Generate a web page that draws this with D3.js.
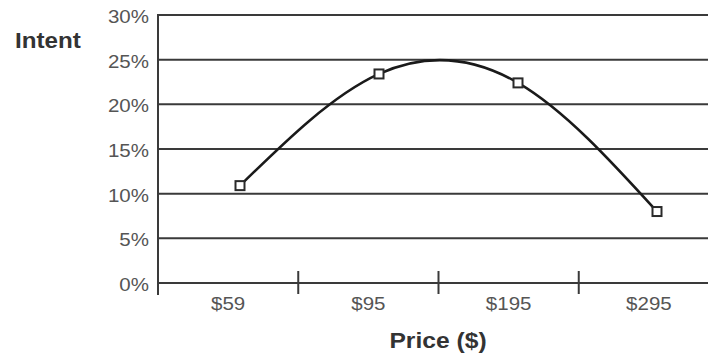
<!DOCTYPE html>
<html>
<head>
<meta charset="utf-8">
<script src="https://cdn.jsdelivr.net/npm/d3@7"></script>
<style>
  body { margin: 0; background: #fff; }
  text { font-family: "Liberation Sans", Arial, sans-serif; }
</style>
</head>
<body>
<div id="chart"></div>
<script>
// Data
var prices = ["$59", "$95", "$195", "$295"];
var intent = [0.109, 0.234, 0.224, 0.080];
var yTicks = [0, 0.05, 0.10, 0.15, 0.20, 0.25, 0.30];

var width = 708, height = 356;

var svg = d3.select("#chart")
    .append("svg")
    .attr("width", width)
    .attr("height", height);

// Scales
var y = d3.scaleLinear()
    .domain([0, 0.30])
    .range([283, 15]);

var x = d3.scaleBand()
    .domain(prices)
    .range([158, 719]);

// markers sit a bit inside the bands in the original
var xp = d3.scalePoint()
    .domain(prices)
    .range([240, 657]);

// Gridlines
svg.append("g")
    .selectAll("line")
    .data(yTicks)
    .enter().append("line")
    .attr("x1", 158)
    .attr("x2", width)
    .attr("y1", function(d) { return y(d); })
    .attr("y2", function(d) { return y(d); })
    .attr("stroke", "#3a3a3a")
    .attr("stroke-width", 2);

// Y axis line
svg.append("line")
    .attr("x1", 158).attr("x2", 158)
    .attr("y1", y(0.30) - 1).attr("y2", 295)
    .attr("stroke", "#3a3a3a")
    .attr("stroke-width", 2);

// Y tick labels (original type is a little wide)
svg.append("g")
    .selectAll("text")
    .data(yTicks)
    .enter().append("text")
    .attr("transform", function(d) { return "translate(149," + (y(d) + 8) + ") scale(1.08,1)"; })
    .attr("text-anchor", "end")
    .attr("font-size", "19px")
    .attr("fill", "#555")
    .text(d3.format(".0%"));

// X band dividers
svg.append("g")
    .selectAll("line")
    .data(prices.slice(1))
    .enter().append("line")
    .attr("x1", function(d) { return x(d); })
    .attr("x2", function(d) { return x(d); })
    .attr("y1", 271)
    .attr("y2", 294)
    .attr("stroke", "#3a3a3a")
    .attr("stroke-width", 2);

// X labels
svg.append("g")
    .selectAll("text")
    .data(prices)
    .enter().append("text")
    .attr("transform", function(d) { return "translate(" + (x(d) + x.bandwidth() / 2) + ",310) scale(1.08,1)"; })
    .attr("text-anchor", "middle")
    .attr("font-size", "19px")
    .attr("fill", "#555")
    .text(function(d) { return d; });

// Curve
var pts = prices.map(function(p, i) { return [xp(p), y(intent[i])]; });
var line = d3.line().curve(d3.curveNatural);

svg.append("path")
    .attr("d", line(pts))
    .attr("fill", "none")
    .attr("stroke", "#1a1a1a")
    .attr("stroke-width", 2.5);

// Markers
svg.append("g")
    .selectAll("rect")
    .data(pts)
    .enter().append("rect")
    .attr("x", function(d) { return d[0] - 4.5; })
    .attr("y", function(d) { return d[1] - 4.5; })
    .attr("width", 9)
    .attr("height", 9)
    .attr("fill", "#fff")
    .attr("stroke", "#2a2a2a")
    .attr("stroke-width", 2);

// Axis titles
svg.append("text")
    .attr("transform", "translate(15,48) scale(1.1,1)")
    .attr("font-size", "22px")
    .attr("font-weight", "bold")
    .attr("fill", "#333")
    .text("Intent");

svg.append("text")
    .attr("transform", "translate(438,348) scale(1.12,1)")
    .attr("text-anchor", "middle")
    .attr("font-size", "22px")
    .attr("font-weight", "bold")
    .attr("fill", "#333")
    .text("Price ($)");
</script>
</body>
</html>
